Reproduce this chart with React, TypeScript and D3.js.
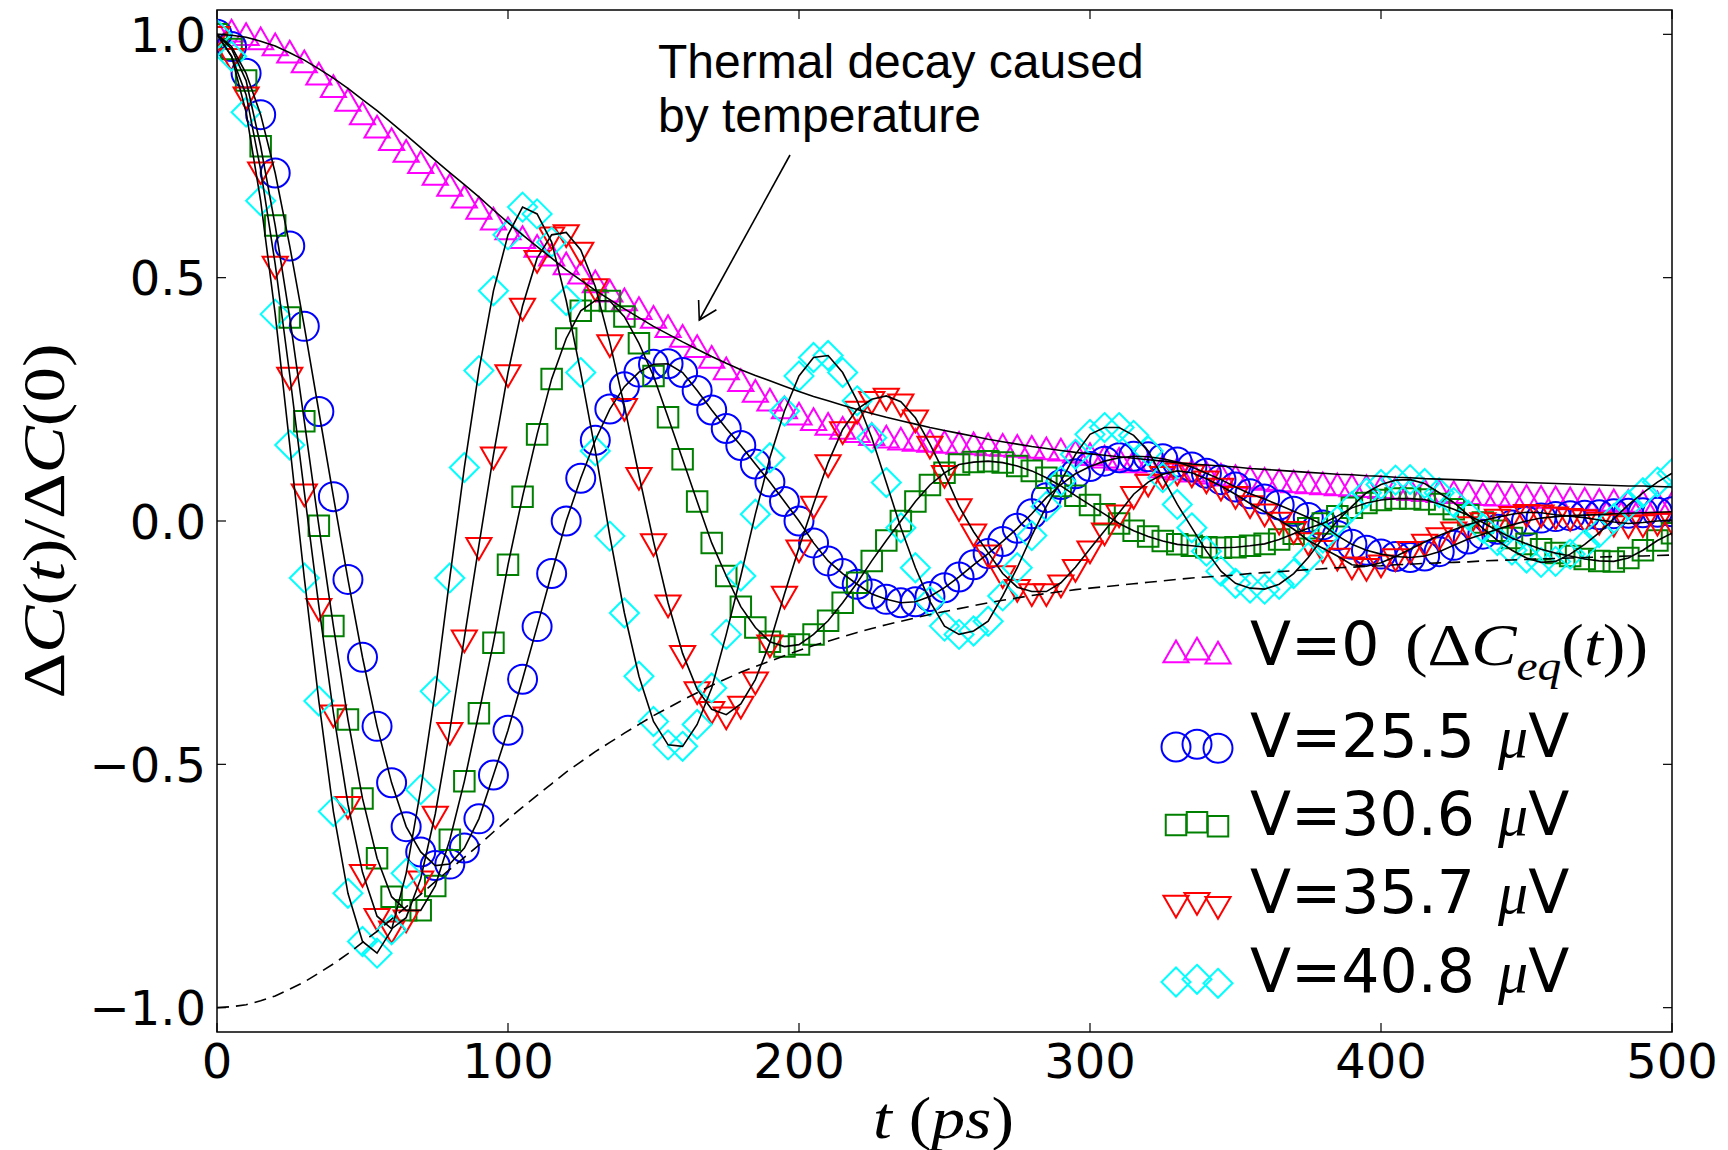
import React from 'react';
import * as d3 from 'd3';

// time grid (ps) of the sampled curves
const tGrid = d3.range(0, 501, 5);
const xTicks = [0, 100, 200, 300, 400, 500];
const xTickLabels = ['0', '100', '200', '300', '400', '500'];
const yTicks = [-1.0, -0.5, 0.0, 0.5, 1.0];
const yTickLabels = ['\u22121.0', '\u22120.5', '0.0', '0.5', '1.0'];

// thermal decay envelope (solid upper line, dashed = mirrored lower line)
const envelope = [
  1.000, 0.998, 0.994, 0.986, 0.976, 0.962, 0.947, 0.929, 0.910, 0.889, 0.866,
  0.843, 0.818, 0.793, 0.767, 0.741, 0.716, 0.691, 0.666, 0.639, 0.613,
  0.588, 0.564, 0.540, 0.516, 0.495, 0.474, 0.455, 0.436, 0.418, 0.400,
  0.384, 0.368, 0.353, 0.338, 0.324, 0.311, 0.299, 0.288, 0.277, 0.266,
  0.256, 0.247, 0.238, 0.229, 0.221, 0.213, 0.206, 0.199, 0.192, 0.186,
  0.180, 0.174, 0.168, 0.163, 0.158, 0.153, 0.149, 0.145, 0.141, 0.138,
  0.135, 0.132, 0.129, 0.126, 0.123, 0.120, 0.117, 0.115, 0.113, 0.111,
  0.108, 0.106, 0.104, 0.102, 0.100, 0.098, 0.096, 0.095, 0.093, 0.092,
  0.090, 0.089, 0.087, 0.086, 0.085, 0.084, 0.082, 0.081, 0.080, 0.079,
  0.078, 0.077, 0.076, 0.075, 0.074, 0.073, 0.072, 0.072, 0.071, 0.070,
];

const v0 = [
  1.000, 1.000, 0.993, 0.984, 0.972, 0.957, 0.937, 0.912, 0.886, 0.858, 0.830,
  0.803, 0.777, 0.753, 0.730, 0.706, 0.683, 0.659, 0.636, 0.614, 0.594,
  0.576, 0.558, 0.540, 0.522, 0.503, 0.485, 0.466, 0.448, 0.430, 0.412,
  0.393, 0.373, 0.352, 0.330, 0.306, 0.282, 0.260, 0.242, 0.226, 0.213,
  0.202, 0.192, 0.184, 0.177, 0.171, 0.166, 0.162, 0.159, 0.157, 0.155,
  0.153, 0.152, 0.150, 0.149, 0.147, 0.145, 0.142, 0.139, 0.135, 0.130,
  0.125, 0.120, 0.115, 0.110, 0.105, 0.100, 0.096, 0.092, 0.088, 0.085,
  0.082, 0.079, 0.076, 0.074, 0.072, 0.070, 0.068, 0.066, 0.064, 0.062,
  0.060, 0.058, 0.056, 0.054, 0.052, 0.050, 0.048, 0.047, 0.045, 0.044,
  0.042, 0.041, 0.039, 0.038, 0.036, 0.035, 0.034, 0.032, 0.031, 0.030,
];

const v255 = [
  1.000, 0.975, 0.920, 0.835, 0.715, 0.565, 0.400, 0.225, 0.050, -0.120, -0.280,
  -0.422, -0.538, -0.628, -0.680, -0.708, -0.705, -0.672, -0.612, -0.522, -0.430,
  -0.325, -0.217, -0.108, 0.000, 0.088, 0.166, 0.230, 0.276, 0.306, 0.322,
  0.323, 0.305, 0.268, 0.228, 0.190, 0.155, 0.117, 0.080, 0.040, 0.000,
  -0.045, -0.082, -0.108, -0.130, -0.150, -0.161, -0.168, -0.166, -0.155, -0.137,
  -0.115, -0.090, -0.067, -0.042, -0.015, 0.015, 0.048, 0.075, 0.097, 0.112,
  0.123, 0.130, 0.133, 0.132, 0.128, 0.121, 0.111, 0.098, 0.085, 0.070,
  0.056, 0.045, 0.033, 0.020, 0.007, -0.008, -0.030, -0.048, -0.060, -0.068,
  -0.073, -0.075, -0.072, -0.063, -0.050, -0.037, -0.027, -0.017, -0.008, 0.000,
  0.006, 0.009, 0.011, 0.012, 0.013, 0.015, 0.016, 0.017, 0.018, 0.019,
];

const v306 = [
  1.000, 0.970, 0.905, 0.770, 0.607, 0.418, 0.205, -0.010, -0.216, -0.408, -0.570,
  -0.693, -0.772, -0.800, -0.800, -0.750, -0.655, -0.535, -0.395, -0.250, -0.090,
  0.050, 0.178, 0.292, 0.375, 0.432, 0.453, 0.452, 0.420, 0.365, 0.298,
  0.213, 0.127, 0.040, -0.045, -0.113, -0.176, -0.219, -0.248, -0.258, -0.254,
  -0.233, -0.205, -0.168, -0.127, -0.082, -0.040, 0.000, 0.040, 0.074, 0.099,
  0.116, 0.121, 0.123, 0.120, 0.113, 0.103, 0.089, 0.072, 0.052, 0.033,
  0.014, -0.005, -0.020, -0.032, -0.041, -0.048, -0.051, -0.054, -0.055, -0.054,
  -0.051, -0.047, -0.038, -0.026, -0.015, -0.005, 0.010, 0.027, 0.037, 0.043,
  0.046, 0.046, 0.044, 0.035, 0.024, 0.012, -0.003, -0.020, -0.035, -0.047,
  -0.058, -0.066, -0.072, -0.078, -0.082, -0.083, -0.076, -0.060, -0.040, -0.025,
];

const v357 = [
  1.000, 0.955, 0.876, 0.722, 0.528, 0.300, 0.060, -0.175, -0.394, -0.582, -0.722,
  -0.812, -0.838, -0.815, -0.735, -0.602, -0.430, -0.240, -0.050, 0.136, 0.305,
  0.442, 0.540, 0.588, 0.593, 0.557, 0.482, 0.367, 0.236, 0.094, -0.042,
  -0.168, -0.272, -0.346, -0.387, -0.398, -0.376, -0.326, -0.250, -0.150, -0.055,
  0.035, 0.120, 0.188, 0.230, 0.250, 0.257, 0.245, 0.212, 0.158, 0.098,
  0.030, -0.022, -0.065, -0.108, -0.136, -0.145, -0.145, -0.127, -0.095, -0.057,
  -0.020, 0.017, 0.055, 0.080, 0.096, 0.103, 0.099, 0.087, 0.072, 0.055,
  0.036, 0.019, 0.002, -0.017, -0.040, -0.056, -0.072, -0.090, -0.093, -0.086,
  -0.073, -0.058, -0.043, -0.030, -0.018, -0.007, 0.001, 0.008, 0.014, 0.018,
  0.017, 0.013, 0.010, 0.007, 0.002, -0.002, -0.005, -0.003, 0.000, 0.002,
];

const v408 = [
  1.000, 0.955, 0.840, 0.658, 0.425, 0.156, -0.117, -0.370, -0.597, -0.765, -0.864,
  -0.888, -0.840, -0.724, -0.552, -0.350, -0.117, 0.110, 0.309, 0.473, 0.588,
  0.645, 0.631, 0.573, 0.453, 0.305, 0.144, -0.031, -0.189, -0.319, -0.412,
  -0.460, -0.463, -0.418, -0.343, -0.233, -0.113, 0.014, 0.130, 0.226, 0.298,
  0.336, 0.340, 0.305, 0.247, 0.171, 0.079, -0.014, -0.096, -0.165, -0.216,
  -0.233, -0.226, -0.206, -0.154, -0.096, -0.030, 0.030, 0.082, 0.137, 0.178,
  0.192, 0.192, 0.176, 0.144, 0.089, 0.034, -0.014, -0.062, -0.103, -0.128,
  -0.138, -0.140, -0.130, -0.108, -0.075, -0.035, 0.000, 0.030, 0.058, 0.075,
  0.084, 0.085, 0.077, 0.058, 0.038, 0.012, -0.015, -0.040, -0.060, -0.076,
  -0.085, -0.083, -0.068, -0.048, -0.024, 0.005, 0.033, 0.058, 0.080, 0.098,
];

const seriesNames = ['V=0', 'V=25.5', 'V=30.6', 'V=35.7', 'V=40.8'];
const seriesValues = [v0, v255, v306, v357, v408];
const seriesColors = ['#ff00ff', '#0000ff', '#008000', '#ff0000', '#00ffff'];
const seriesMarkers = ['triUp', 'circle', 'square', 'triDown', 'diamond'];
const hasOwnFit = [false, true, true, true, true];

const R = 14.5;
function markerPath(kind: string, r: number) {
  const c = r * Math.sqrt(3) / 2;
  const h = r / Math.SQRT2;
  switch (kind) {
    case 'triUp':
      return `M0,${-r}L${c},${r / 2}L${-c},${r / 2}Z`;
    case 'triDown':
      return `M0,${r}L${c},${-r / 2}L${-c},${-r / 2}Z`;
    case 'square':
      return `M${-h},${-h}H${h}V${h}H${-h}Z`;
    case 'diamond':
      return `M0,${-r}L${r},0L0,${r}L${-r},0Z`;
    default:
      return `M${r},0A${r},${r} 0 1,1 ${-r},0A${r},${r} 0 1,1 ${r},0Z`;
  }
}

export default function App() {
  const left = 217, right = 1672, top = 10, bottom = 1032;
  const x = d3.scaleLinear().domain([0, 500]).range([left, right]);
  const y = d3.scaleLinear().domain([-1.05, 1.05]).range([bottom, top]);
  const line = d3.line<number>().x((_, i) => x(tGrid[i])).y((d) => y(d));
  const tick = 9;
  const sans = 'DejaVu Sans';
  const serif = 'Liberation Serif';

  const legendBase = [665, 757, 835, 913, 992];
  const legendX = [1176, 1197, 1218];
  const legendOff = [0, -2.7, 1.3];

  return (
    <svg width={1728} height={1150} style={{ position: 'absolute', left: 0, top: 0, background: '#fff' }}>
      <rect x={0} y={0} width={1728} height={1150} fill="#fff" />
      <defs>
        <clipPath id="plotClip">
          <rect x={left} y={top} width={right - left} height={bottom - top} />
        </clipPath>
      </defs>

      <g clipPath="url(#plotClip)">
        {seriesValues.map((vals, si) => (
          <g key={si} fill="none" stroke={seriesColors[si]} strokeWidth={2}>
            {vals.map((v, i) => (
              <path key={i} d={markerPath(seriesMarkers[si], R)} transform={`translate(${x(tGrid[i])},${y(v)})`} />
            ))}
          </g>
        ))}
        <path d={line(envelope) || ''} fill="none" stroke="#000" strokeWidth={1.6} />
        <path d={line(envelope.map((d) => -d)) || ''} fill="none" stroke="#000" strokeWidth={1.6} strokeDasharray="12,7" />
        {seriesValues.map((vals, si) =>
          hasOwnFit[si] ? (
            <path key={si} d={line(vals) || ''} fill="none" stroke="#000" strokeWidth={1.6} />
          ) : null
        )}
      </g>

      {/* frame */}
      <rect x={left} y={top} width={right - left} height={bottom - top} fill="none" stroke="#000" strokeWidth={1.5} />

      {/* ticks */}
      {xTicks.map((t, i) => (
        <g key={'xt' + i}>
          <line x1={x(t)} x2={x(t)} y1={bottom} y2={bottom - tick} stroke="#000" strokeWidth={1.2} />
          <line x1={x(t)} x2={x(t)} y1={top} y2={top + tick} stroke="#000" strokeWidth={1.2} />
          <text x={x(t)} y={1078} textAnchor="middle" fontFamily={sans} fontSize={48} fill="#000">{xTickLabels[i]}</text>
        </g>
      ))}
      {yTicks.map((v, i) => (
        <g key={'yt' + i}>
          <line x1={left} x2={left + tick} y1={y(v)} y2={y(v)} stroke="#000" strokeWidth={1.2} />
          <line x1={right} x2={right - tick} y1={y(v)} y2={y(v)} stroke="#000" strokeWidth={1.2} />
          <text x={206} y={y(v) + 17.5} textAnchor="end" fontFamily={sans} fontSize={48} fill="#000">{yTickLabels[i]}</text>
        </g>
      ))}

      {/* axis labels */}
      <text transform="translate(64,521) rotate(-90)" textAnchor="middle" fontFamily={serif} fontSize={60} textLength={355} lengthAdjust="spacingAndGlyphs" fill="#000">
        <tspan>Δ</tspan><tspan fontStyle="italic">C</tspan><tspan>(</tspan><tspan fontStyle="italic">t</tspan><tspan>)/Δ</tspan><tspan fontStyle="italic">C</tspan><tspan>(0)</tspan>
      </text>
      <text x={943.5} y={1138} textAnchor="middle" fontFamily={serif} fontSize={60} textLength={141} lengthAdjust="spacingAndGlyphs" fill="#000">
        <tspan fontStyle="italic">t</tspan><tspan> (</tspan><tspan fontStyle="italic">ps</tspan><tspan>)</tspan>
      </text>

      {/* annotation */}
      <text x={658} y={78} fontFamily="Liberation Sans" fontSize={48} fill="#000">Thermal decay caused</text>
      <text x={658} y={131.5} fontFamily="Liberation Sans" fontSize={48} fill="#000">by temperature</text>
      <line x1={790} y1={155} x2={699.3} y2={320} stroke="#000" strokeWidth={1.6} />
      <polyline points="698.6,300 699.3,320 716.4,309.7" fill="none" stroke="#000" strokeWidth={1.6} />

      {/* legend */}
      {seriesNames.map((name, si) => (
        <g key={'lg' + si}>
          {legendX.map((lx, k) => (
            <path key={k} d={markerPath(seriesMarkers[si], R)} transform={`translate(${lx},${legendBase[si] - 10 + legendOff[k]})`} fill="none" stroke={seriesColors[si]} strokeWidth={2} />
          ))}
          {si === 0 ? (
            <>
              <text x={1250} y={legendBase[si]} fontFamily={sans} fontSize={60} fill="#000">{name}</text>
              <text x={1405} y={legendBase[si]} fontFamily={serif} fontSize={60} fill="#000" textLength={243} lengthAdjust="spacingAndGlyphs">
                <tspan>(Δ</tspan><tspan fontStyle="italic">C</tspan><tspan fontStyle="italic" fontSize={42} dy={15}>eq</tspan><tspan dy={-15}>(</tspan><tspan fontStyle="italic">t</tspan><tspan>))</tspan>
              </text>
            </>
          ) : (
            <text x={1250} y={legendBase[si]} fontFamily={sans} fontSize={60} fill="#000">
              {name}
              <tspan x={1498} fontFamily={serif} fontStyle="italic">μ</tspan>
              <tspan>V</tspan>
            </text>
          )}
        </g>
      ))}
    </svg>
  );
}
